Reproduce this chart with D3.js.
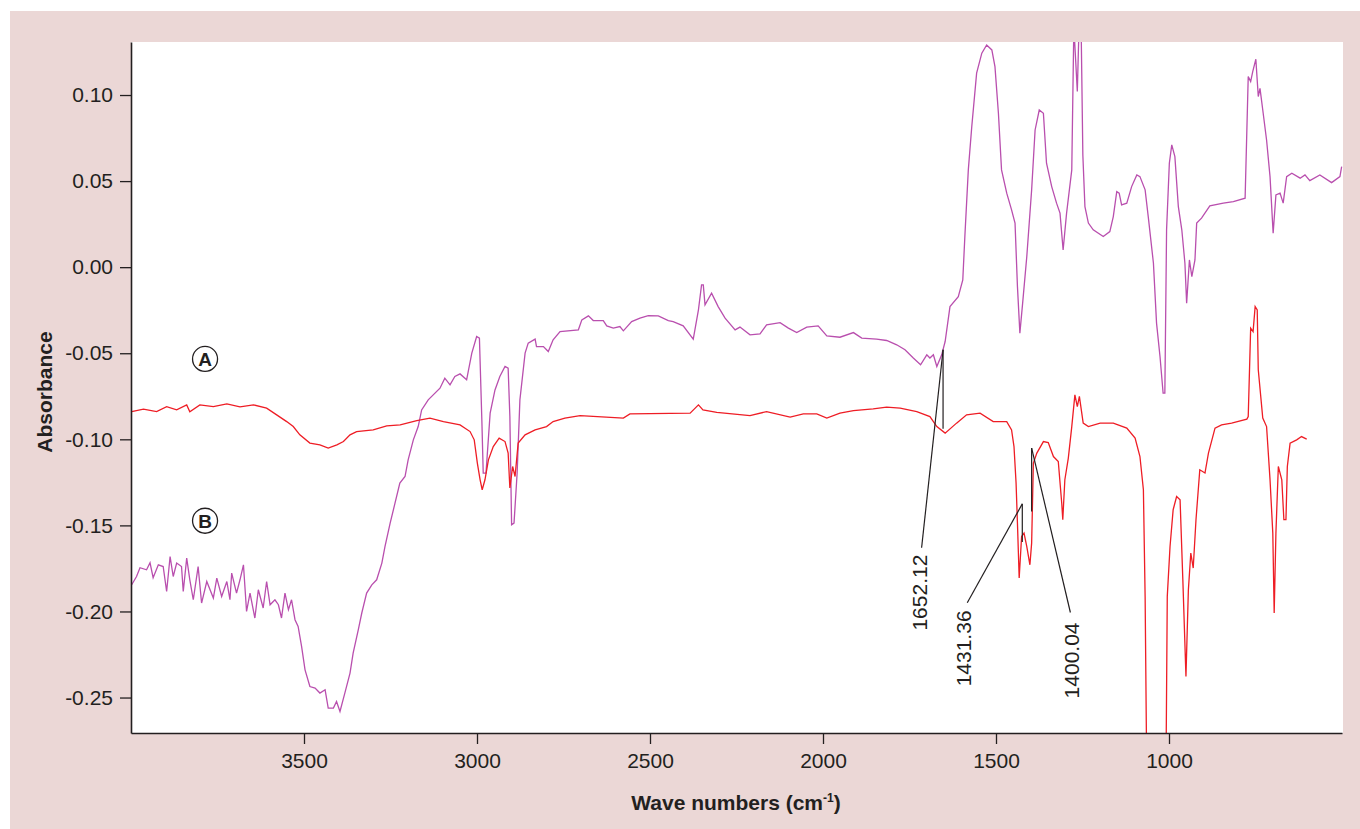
<!DOCTYPE html>
<html>
<head>
<meta charset="utf-8">
<script src="https://cdn.jsdelivr.net/npm/d3@7"></script>
<style>
  body { margin: 0; background: #fff; }
  text { font-family: "Liberation Sans", Arial, Helvetica, sans-serif; fill: #231f20; }
</style>
</head>
<body>
<div id="chart"></div>
<script>
var width = 1360;
var height = 829;

// axis ticks
var wnTicks = [3500, 3000, 2500, 2000, 1500, 1000];
var absTicks = [-0.25, -0.20, -0.15, -0.10, -0.05, 0.00, 0.05, 0.10];

// spectrum A (red)
var wnA = [3998, 3964, 3926, 3897, 3868, 3839, 3830, 3801, 3762, 3723, 3685, 3646, 3608, 3579, 3550, 3531, 3512, 3483, 3454, 3430,
  3405, 3386, 3367, 3348, 3300, 3261, 3222, 3174, 3136, 3097, 3049, 3020, 3008, 2999, 2991, 2985, 2977, 2967, 2953, 2936,
  2919, 2910, 2905, 2897, 2890, 2881, 2861, 2832, 2799, 2780, 2746, 2702, 2577, 2558, 2384, 2360, 2347, 2307, 2211, 2163,
  2095, 2057, 2018, 1989, 1951, 1912, 1855, 1816, 1777, 1729, 1691, 1671, 1647, 1614, 1585, 1546, 1508, 1469, 1455, 1448,
  1442, 1438, 1433, 1426, 1419, 1411, 1402, 1397, 1392, 1382, 1363, 1349, 1334, 1320, 1310, 1307, 1301, 1291, 1281, 1272,
  1265, 1259, 1248, 1233, 1199, 1161, 1122, 1098, 1084, 1074, 1069, 1064, 1009, 1005, 997, 988, 978, 968, 960, 951,
  944, 937, 930, 922, 911, 896, 886, 867, 848, 819, 775, 771, 764, 757, 751, 745, 742, 729, 718, 708,
  700, 696, 691, 684, 674, 668, 662, 658, 650, 631, 617, 602];
var absA = [-0.0839, -0.0825, -0.0839, -0.0810, -0.0829, -0.0800, -0.0840, -0.0800, -0.0810, -0.0794, -0.0811, -0.0800, -0.0819, -0.0858, -0.0897, -0.0926, -0.0974, -0.1022, -0.1032, -0.1051,
  -0.1032, -0.1013, -0.0974, -0.0955, -0.0945, -0.0922, -0.0916, -0.0891, -0.0877, -0.0897, -0.0916, -0.0955, -0.1003, -0.1138, -0.1235, -0.1293, -0.1235, -0.1119, -0.1042, -0.0993,
  -0.1013, -0.1080, -0.1283, -0.1158, -0.1216, -0.1022, -0.0974, -0.0945, -0.0926, -0.0897, -0.0877, -0.0862, -0.0877, -0.0852, -0.0848, -0.0800, -0.0829, -0.0844, -0.0862, -0.0839,
  -0.0871, -0.0852, -0.0852, -0.0877, -0.0848, -0.0833, -0.0823, -0.0813, -0.0819, -0.0839, -0.0868, -0.0926, -0.0964, -0.0906, -0.0858, -0.0848, -0.0897, -0.0897, -0.0945, -0.1042,
  -0.1254, -0.1487, -0.1806, -0.1564, -0.1545, -0.1623, -0.1729, -0.1603, -0.1138, -0.1080, -0.1013, -0.1019, -0.1100, -0.1129, -0.1371, -0.1467, -0.1235, -0.1109, -0.0926, -0.0742,
  -0.0810, -0.0751, -0.0906, -0.0926, -0.0906, -0.0906, -0.0935, -0.0993, -0.1100, -0.1293, -0.1913, -0.3000, -0.3000, -0.1913, -0.1623, -0.1409, -0.1332, -0.1351, -0.1816, -0.2377,
  -0.1874, -0.1661, -0.1748, -0.1467, -0.1177, -0.1196, -0.1080, -0.0935, -0.0916, -0.0906, -0.0883, -0.0868, -0.0354, -0.0374, -0.0229, -0.0248, -0.0596, -0.0877, -0.0926, -0.1235,
  -0.1545, -0.2009, -0.1545, -0.1158, -0.1235, -0.1467, -0.1467, -0.1158, -0.1022, -0.1003, -0.0984, -0.0999];

// spectrum B (magenta)
var wnB = [3998, 3984, 3974, 3955, 3945, 3936, 3921, 3907, 3897, 3887, 3878, 3868, 3854, 3849, 3839, 3830, 3820, 3806, 3796, 3781,
  3762, 3752, 3738, 3723, 3714, 3709, 3695, 3685, 3675, 3666, 3656, 3642, 3632, 3618, 3608, 3598, 3584, 3574, 3565, 3555,
  3545, 3536, 3526, 3517, 3507, 3497, 3483, 3468, 3454, 3439, 3430, 3415, 3406, 3396, 3382, 3367, 3358, 3343, 3333, 3319,
  3304, 3290, 3275, 3266, 3251, 3237, 3223, 3208, 3199, 3184, 3170, 3160, 3141, 3107, 3093, 3078, 3064, 3049, 3030, 3015,
  3001, 2993, 2986, 2982, 2974, 2962, 2948, 2934, 2919, 2910, 2905, 2900, 2893, 2884, 2876, 2861, 2852, 2832, 2828, 2808,
  2794, 2780, 2760, 2707, 2697, 2678, 2664, 2635, 2625, 2606, 2587, 2577, 2553, 2529, 2505, 2476, 2447, 2433, 2404, 2375,
  2360, 2351, 2346, 2341, 2322, 2303, 2283, 2254, 2240, 2211, 2182, 2163, 2124, 2100, 2076, 2047, 2014, 1989, 1951, 1912,
  1888, 1845, 1816, 1787, 1763, 1739, 1718, 1700, 1691, 1681, 1671, 1657, 1647, 1633, 1609, 1596, 1590, 1580, 1570, 1556,
  1541, 1527, 1512, 1503, 1493, 1484, 1469, 1455, 1445, 1438, 1431, 1423, 1411, 1397, 1387, 1375, 1363, 1354, 1339, 1325,
  1315, 1306, 1296, 1281, 1275, 1265, 1260, 1254, 1249, 1243, 1233, 1219, 1190, 1171, 1161, 1151, 1144, 1137, 1122, 1108,
  1093, 1084, 1069, 1060, 1045, 1036, 1026, 1017, 1012, 1007, 999, 992, 983, 973, 963, 954, 949, 941, 934, 925,
  920, 906, 882, 843, 814, 780, 771, 764, 758, 749, 742, 737, 729, 718, 708, 699, 691, 679, 670, 660,
  645, 621, 607, 593, 564, 530, 506, 501];
var absB = [-0.1845, -0.1797, -0.1746, -0.1758, -0.1717, -0.1804, -0.1729, -0.1739, -0.1884, -0.1681, -0.1797, -0.1719, -0.1739, -0.1884, -0.1690, -0.1816, -0.1932, -0.1739, -0.1951, -0.1826,
  -0.1922, -0.1806, -0.1913, -0.1826, -0.1932, -0.1777, -0.1893, -0.1816, -0.1729, -0.2000, -0.1893, -0.2038, -0.1874, -0.1980, -0.1826, -0.1961, -0.1932, -0.1961, -0.2038, -0.1893,
  -0.1990, -0.1932, -0.2048, -0.2087, -0.2203, -0.2339, -0.2436, -0.2445, -0.2474, -0.2455, -0.2561, -0.2561, -0.2523, -0.2581, -0.2474, -0.2358, -0.2242, -0.2106, -0.2009, -0.1893,
  -0.1845, -0.1816, -0.1719, -0.1623, -0.1487, -0.1371, -0.1254, -0.1216, -0.1119, -0.1003, -0.0926, -0.0829, -0.0771, -0.0703, -0.0645, -0.0684, -0.0635, -0.0620, -0.0654, -0.0499,
  -0.0403, -0.0412, -0.0887, -0.1196, -0.1196, -0.0848, -0.0713, -0.0635, -0.0577, -0.0587, -0.0868, -0.1497, -0.1487, -0.1196, -0.0771, -0.0499, -0.0441, -0.0418, -0.0461, -0.0461,
  -0.0490, -0.0422, -0.0374, -0.0364, -0.0306, -0.0283, -0.0310, -0.0310, -0.0341, -0.0354, -0.0345, -0.0370, -0.0316, -0.0296, -0.0281, -0.0283, -0.0310, -0.0316, -0.0341, -0.0418,
  -0.0248, -0.0103, -0.0103, -0.0219, -0.0151, -0.0229, -0.0296, -0.0364, -0.0348, -0.0393, -0.0387, -0.0335, -0.0322, -0.0354, -0.0380, -0.0348, -0.0341, -0.0399, -0.0407, -0.0380,
  -0.0412, -0.0418, -0.0426, -0.0451, -0.0480, -0.0528, -0.0567, -0.0509, -0.0528, -0.0509, -0.0577, -0.0509, -0.0432, -0.0229, -0.0171, -0.0074, 0.0178, 0.0565, 0.0817, 0.1127,
  0.1243, 0.1291, 0.1262, 0.1165, 0.0894, 0.0565, 0.0430, 0.0333, 0.0256, -0.0113, -0.0383, -0.0209, 0.0062, 0.0449, 0.0797, 0.0913, 0.0894, 0.0604, 0.0468, 0.0372,
  0.0314, 0.0100, 0.0314, 0.0565, 0.1400, 0.1020, 0.1400, 0.1400, 0.0652, 0.0352, 0.0256, 0.0217, 0.0178, 0.0207, 0.0294, 0.0439, 0.0430, 0.0362, 0.0372, 0.0468,
  0.0536, 0.0526, 0.0449, 0.0294, 0.0023, -0.0325, -0.0519, -0.0732, -0.0732, 0.0217, 0.0604, 0.0710, 0.0642, 0.0352, 0.0217, 0.0023, -0.0209, 0.0042, -0.0055, 0.0042,
  0.0256, 0.0285, 0.0356, 0.0372, 0.0381, 0.0401, 0.1107, 0.1078, 0.1136, 0.1208, 0.0991, 0.1039, 0.0913, 0.0739, 0.0526, 0.0197, 0.0420, 0.0430, 0.0372, 0.0526,
  0.0546, 0.0517, 0.0536, 0.0503, 0.0536, 0.0491, 0.0526, 0.0584];

// peak annotations
var peakLabels = ["1652.12", "1431.36", "1400.04"];
var peakWn = [1653, 1424, 1397];
var peakTop = [-0.0480, -0.1375, -0.1051];
var peakBottom = [-0.0939, -0.1597, -0.1419];
var peakTextWn = [1720, 1593, 1283];
var peakTextAbs = [-0.1670, -0.1994, -0.2064];
var peakLineWn = [1715, 1583, 1285];
var peakLineAbs = [-0.1630, -0.1949, -0.2006];

// curve labels
var curveNames = ["A", "B"];
var curveNameWn = [3786, 3786];
var curveNameAbs = [-0.0533, -0.1473];

var svg = d3.select("#chart").append("svg")
  .attr("width", width)
  .attr("height", height);

// pink frame
svg.append("rect")
  .attr("x", 10).attr("y", 11)
  .attr("width", width - 10).attr("height", height - 11)
  .attr("fill", "#ebd7d6");

var xScale = d3.scaleLinear().domain([4000, 500]).range([131, 1342]);
var yScale = d3.scaleLinear().domain([-0.2706, 0.1308]).range([733, 42]);

svg.append("rect")
  .attr("x", 131).attr("y", 42)
  .attr("width", 1343 - 131).attr("height", 733 - 42)
  .attr("fill", "#fff");

svg.append("clipPath").attr("id", "plotclip")
  .append("rect")
  .attr("x", 131).attr("y", 42)
  .attr("width", 1343 - 131).attr("height", 733 - 42);

var line = d3.line()
  .x(function (d) { return xScale(d[0]); })
  .y(function (d) { return yScale(d[1]); });

var dataA = wnA.map(function (w, i) { return [w, absA[i]]; });
var dataB = wnB.map(function (w, i) { return [w, absB[i]]; });

var plot = svg.append("g").attr("clip-path", "url(#plotclip)");

plot.append("path")
  .datum(dataB)
  .attr("d", line)
  .attr("fill", "none")
  .attr("stroke", "#b94fae")
  .attr("stroke-width", 1.3)
  .attr("stroke-linejoin", "miter");

plot.append("path")
  .datum(dataA)
  .attr("d", line)
  .attr("fill", "none")
  .attr("stroke", "#ee1d25")
  .attr("stroke-width", 1.3);

// axes
var xAxis = d3.axisBottom(xScale)
  .tickValues(wnTicks)
  .tickFormat(function (d) { return d; })
  .tickSize(11)
  .tickSizeOuter(0)
  .tickPadding(9);

var yAxis = d3.axisLeft(yScale)
  .tickValues(absTicks)
  .tickFormat(function (d) { return d.toFixed(2); })
  .tickSize(11)
  .tickSizeOuter(0)
  .tickPadding(7);

var gx = svg.append("g")
  .attr("transform", "translate(0,733)")
  .call(xAxis);

var gy = svg.append("g")
  .attr("transform", "translate(131,0)")
  .call(yAxis);

[gx, gy].forEach(function (g) {
  g.select(".domain").attr("stroke", "#231f20").attr("stroke-width", 1.6);
  g.selectAll(".tick line").attr("stroke", "#231f20").attr("stroke-width", 1.3);
  g.selectAll(".tick text")
    .style("font-family", "'Liberation Sans', Arial, Helvetica, sans-serif")
    .style("font-size", "21px")
    .attr("fill", "#231f20");
});

// axis titles
svg.append("text")
  .attr("transform", "translate(52,392) rotate(-90)")
  .attr("text-anchor", "middle")
  .style("font-size", "21px")
  .style("font-weight", "bold")
  .text("Absorbance");

var xTitle = svg.append("text")
  .attr("x", 736)
  .attr("y", 810)
  .attr("text-anchor", "middle")
  .style("font-size", "21px")
  .style("font-weight", "bold");
xTitle.append("tspan").text("Wave numbers (cm");
xTitle.append("tspan").attr("dy", -8).style("font-size", "12px").text("-1");
xTitle.append("tspan").attr("dy", 8).text(")");

// curve name badges
curveNames.forEach(function (n, i) {
  var cx = xScale(curveNameWn[i]);
  var cy = yScale(curveNameAbs[i]);
  svg.append("circle")
    .attr("cx", cx).attr("cy", cy).attr("r", 12.5)
    .attr("fill", "#fff")
    .attr("stroke", "#231f20")
    .attr("stroke-width", 1.3);
  svg.append("text")
    .attr("x", cx).attr("y", cy)
    .attr("dy", "0.36em")
    .attr("text-anchor", "middle")
    .style("font-size", "19px")
    .style("font-weight", "bold")
    .text(n);
});

// peak annotations
peakLabels.forEach(function (lab, i) {
  var px = xScale(peakWn[i]);
  svg.append("line")
    .attr("x1", px).attr("x2", px)
    .attr("y1", yScale(peakTop[i])).attr("y2", yScale(peakBottom[i]))
    .attr("stroke", "#231f20").attr("stroke-width", 1.2);
  svg.append("line")
    .attr("x1", px).attr("y1", yScale(peakTop[i]))
    .attr("x2", xScale(peakLineWn[i])).attr("y2", yScale(peakLineAbs[i]))
    .attr("stroke", "#231f20").attr("stroke-width", 1.2);
  svg.append("text")
    .attr("transform", "translate(" + xScale(peakTextWn[i]) + "," + yScale(peakTextAbs[i]) + ") rotate(-90)")
    .attr("text-anchor", "end")
    .attr("dy", "0.36em")
    .style("font-size", "21px")
    .text(lab);
});
</script>
</body>
</html>
